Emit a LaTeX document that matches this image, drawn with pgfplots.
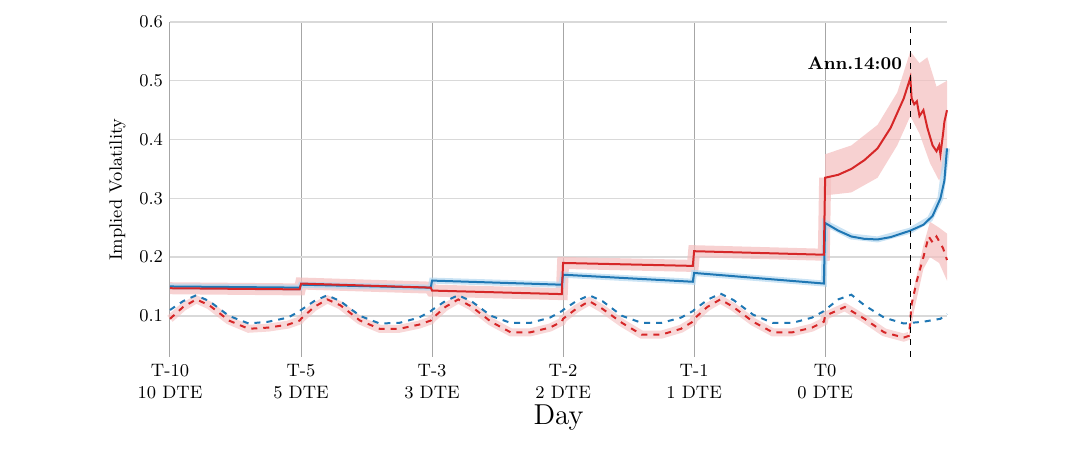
\documentclass[border=0pt]{standalone}
\usepackage{pgfplots}
\pgfplotsset{compat=1.18}
\usepgfplotslibrary{fillbetween}
\definecolor{cred}{RGB}{214,39,40}
\definecolor{cblue}{RGB}{31,119,180}
\definecolor{bred}{RGB}{244,190,190}
\definecolor{bblue}{RGB}{180,215,240}
\begin{document}
\begin{tikzpicture}
\begin{axis}[scale only axis, width=388.5pt, height=167.5pt,
  xmin=0, xmax=5.93, ymin=0.03, ymax=0.6,
  xtick={0,1,2,3,4,5}, xticklabels={{T-10\\10 DTE},{T-5\\5 DTE},{T-3\\3 DTE},{T-2\\2 DTE},{T-1\\1 DTE},{T0\\0 DTE}},
  xticklabel style={align=center,font=\small},
  ytick={0.1,0.2,0.3,0.4,0.5,0.6}, yticklabel style={font=\small},
  yticklabel={\pgfmathprintnumber[fixed,precision=1,fixed zerofill]{\tick}},
  major tick length=0pt, axis line style={draw=none},
  xmajorgrids, ymajorgrids,
  x grid style={gray!70, line width=0.5pt}, y grid style={gray!30, line width=0.7pt},
  xlabel={Day}, xlabel style={font=\Large, yshift=4pt},
  ylabel={Implied Volatility}, ylabel style={font=\small},
  clip=false]
\addplot[bred, line width=6pt, opacity=0.7] coordinates {(0,0.147)(0.99,0.145)(1,0.155)(1.99,0.148)(2,0.143)(2.99,0.137)(3,0.19)(3.99,0.185)(4,0.21)(4.99,0.204)(5,0.335)};
\addplot[bred, line width=4pt, opacity=0.6] coordinates {(0,0.095)(0.1,0.115)(0.2,0.128)(0.3,0.118)(0.45,0.092)(0.6,0.078)(0.75,0.08)(0.9,0.085)(0.99,0.092)
(1,0.095)(1.1,0.115)(1.2,0.128)(1.3,0.118)(1.45,0.092)(1.6,0.078)(1.75,0.078)(1.9,0.085)(1.99,0.092)
(2,0.095)(2.1,0.115)(2.2,0.128)(2.3,0.116)(2.45,0.09)(2.6,0.072)(2.75,0.072)(2.9,0.08)(2.99,0.09)
(3,0.095)(3.1,0.112)(3.2,0.125)(3.3,0.112)(3.45,0.088)(3.6,0.068)(3.75,0.068)(3.9,0.078)(3.99,0.09)
(4,0.095)(4.1,0.115)(4.2,0.128)(4.3,0.115)(4.45,0.09)(4.6,0.072)(4.75,0.072)(4.9,0.08)(4.99,0.09)
(5,0.1)(5.15,0.115)(5.3,0.095)(5.45,0.072)(5.6,0.063)(5.64,0.066)};
\addplot[bblue, line width=3pt, opacity=0.7] coordinates {(0,0.15)(0.99,0.148)(1,0.153)(1.99,0.148)(2,0.16)(2.99,0.153)(3,0.17)(3.99,0.158)(4,0.173)(4.99,0.155)(5,0.258)(5.2,0.235)(5.4,0.23)(5.65,0.245)(5.8,0.265)(5.88,0.3)(5.93,0.385)};
\addplot[name path=ru, draw=none] coordinates {(5,0.375)(5.2,0.39)(5.4,0.425)(5.55,0.48)(5.65,0.55)(5.72,0.53)(5.78,0.54)(5.85,0.49)(5.93,0.5)};
\addplot[name path=rl, draw=none] coordinates {(5,0.305)(5.2,0.31)(5.4,0.335)(5.55,0.39)(5.65,0.44)(5.72,0.41)(5.8,0.36)(5.87,0.33)(5.93,0.37)};
\addplot[bred, opacity=0.7] fill between[of=ru and rl];
\addplot[name path=du, draw=none] coordinates {(5.64,0.07)(5.68,0.15)(5.75,0.22)(5.8,0.26)(5.87,0.25)(5.93,0.24)};
\addplot[name path=dl, draw=none] coordinates {(5.64,0.06)(5.68,0.11)(5.75,0.18)(5.8,0.2)(5.87,0.19)(5.93,0.16)};
\addplot[bred, opacity=0.7] fill between[of=du and dl];
\addplot[cblue, line width=1pt] coordinates {(0,0.15)(0.99,0.148)(1,0.153)(1.99,0.148)(2,0.16)(2.99,0.153)(3,0.17)(3.99,0.158)(4,0.173)(4.99,0.155)(5,0.258)(5.1,0.245)(5.2,0.235)(5.3,0.231)(5.4,0.23)(5.5,0.234)(5.65,0.245)(5.75,0.255)(5.82,0.27)(5.88,0.3)(5.91,0.33)(5.93,0.385)};
\addplot[cred, line width=1pt] coordinates {(0,0.147)(0.99,0.145)(1,0.155)(1.99,0.148)(2,0.143)(2.99,0.137)(3,0.19)(3.99,0.185)(4,0.21)(4.99,0.204)(5,0.335)(5.1,0.34)(5.2,0.35)(5.3,0.365)(5.4,0.385)(5.5,0.42)(5.6,0.47)(5.65,0.505)(5.66,0.47)(5.68,0.46)(5.7,0.465)(5.72,0.44)(5.75,0.45)(5.78,0.42)(5.82,0.39)(5.85,0.38)(5.87,0.39)(5.88,0.375)(5.9,0.41)(5.91,0.43)(5.93,0.45)};
\addplot[cblue, line width=1pt, dashed] coordinates {(0,0.11)(0.1,0.125)(0.2,0.135)(0.3,0.125)(0.45,0.1)(0.6,0.087)(0.75,0.09)(0.9,0.097)(0.99,0.108)
(1,0.11)(1.1,0.125)(1.2,0.135)(1.3,0.125)(1.45,0.1)(1.6,0.087)(1.75,0.088)(1.9,0.097)(1.99,0.108)
(2,0.11)(2.1,0.125)(2.2,0.135)(2.3,0.125)(2.45,0.1)(2.6,0.088)(2.75,0.088)(2.9,0.097)(2.99,0.108)
(3,0.11)(3.1,0.125)(3.2,0.135)(3.3,0.125)(3.45,0.1)(3.6,0.088)(3.75,0.088)(3.9,0.097)(3.99,0.108)
(4,0.11)(4.1,0.127)(4.2,0.138)(4.3,0.127)(4.45,0.102)(4.6,0.088)(4.75,0.088)(4.9,0.097)(4.99,0.108)
(5,0.11)(5.1,0.128)(5.2,0.136)(5.3,0.118)(5.45,0.097)(5.6,0.087)(5.75,0.09)(5.88,0.095)(5.93,0.103)};
\addplot[cred, line width=1pt, dashed] coordinates {(0,0.095)(0.1,0.115)(0.2,0.128)(0.3,0.118)(0.45,0.092)(0.6,0.078)(0.75,0.08)(0.9,0.085)(0.99,0.092)
(1,0.095)(1.1,0.115)(1.2,0.128)(1.3,0.118)(1.45,0.092)(1.6,0.078)(1.75,0.078)(1.9,0.085)(1.99,0.092)
(2,0.095)(2.1,0.115)(2.2,0.128)(2.3,0.116)(2.45,0.09)(2.6,0.072)(2.75,0.072)(2.9,0.08)(2.99,0.09)
(3,0.095)(3.1,0.112)(3.2,0.125)(3.3,0.112)(3.45,0.088)(3.6,0.068)(3.75,0.068)(3.9,0.078)(3.99,0.09)
(4,0.095)(4.1,0.115)(4.2,0.128)(4.3,0.115)(4.45,0.09)(4.6,0.072)(4.75,0.072)(4.9,0.08)(4.99,0.09)
(5,0.1)(5.15,0.115)(5.3,0.095)(5.45,0.072)(5.6,0.063)(5.64,0.066)(5.66,0.12)(5.7,0.16)(5.75,0.2)(5.79,0.235)(5.82,0.225)(5.85,0.235)(5.9,0.215)(5.93,0.195)};
\draw[black, dashed, line width=0.6pt] (axis cs:5.65,0.03) -- (axis cs:5.65,0.6);
\node[anchor=east, font=\small\bfseries] at (axis cs:5.64,0.53) {Ann.14:00};
\end{axis}
\path[use as bounding box] (current axis.south west) ++(-85pt,-48.5pt) rectangle ([shift={(61.5pt,11pt)}]current axis.north east);
\end{tikzpicture}
\end{document}
